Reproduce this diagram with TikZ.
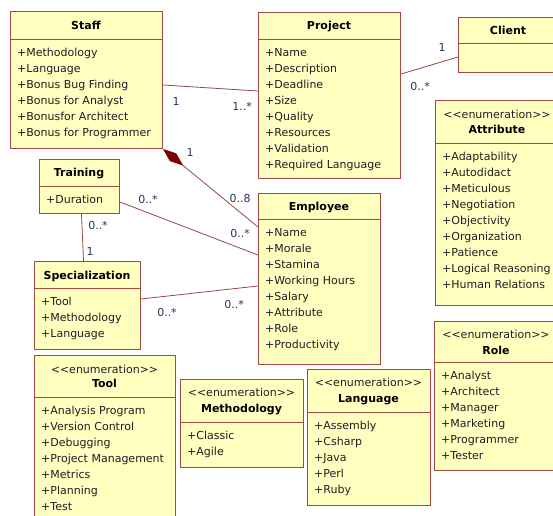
\documentclass[tikz,border=0pt]{standalone}
\usepackage{fontspec}
\setmainfont{DejaVu Sans}
\usetikzlibrary{arrows.meta}

\definecolor{boxfill}{RGB}{255,255,192}
\definecolor{boxedge}{RGB}{165,72,66}
\definecolor{linkred}{RGB}{150,72,72}
\definecolor{multblue}{RGB}{40,50,95}
\definecolor{itemgray}{RGB}{30,30,40}
\definecolor{diamondred}{RGB}{125,0,0}

\begin{document}
\begin{tikzpicture}[x=1pt,y=1pt,yscale=-1,xscale=1,
  umlbox/.style={draw=boxedge, fill=boxfill, line width=1pt, anchor=north west, inner sep=0pt},
  umlline/.style={draw=boxedge, line width=1pt},
  umlhead/.style={anchor=base, inner sep=0pt, font=\fontsize{11}{15}\bfseries\selectfont},
  umlstereo/.style={anchor=base, inner sep=0pt, text=itemgray, font=\fontsize{11}{15}\selectfont},
  umlattr/.style={anchor=north west, inner sep=0pt, align=left, text=itemgray, font=\fontsize{11}{16}\selectfont},
  assoc/.style={draw=linkred, line width=0.8pt},
  mult/.style={anchor=base, inner sep=0pt, text=multblue, font=\fontsize{11}{13}\selectfont}]
\useasboundingbox (0,0) rectangle (553,515);
\clip (0,0) rectangle (553,515);

%Staff
\node[umlbox, minimum width=152pt, minimum height=137pt] (staff) at (10,11) {};
\draw[umlline] (staff.west |- 0,39) -- (staff.east |- 0,39);
\node[umlhead] (staffH) at (86,29) {Staff};
\node[umlattr] (staffA) at (17,48) {+Methodology\\+Language\\+Bonus Bug Finding\\+Bonus for Analyst\\+Bonusfor Architect\\+Bonus for Programmer};

%Project
\node[umlbox, minimum width=142pt, minimum height=166pt] (project) at (258,12) {};
\draw[umlline] (project.west |- 0,39) -- (project.east |- 0,39);
\node[umlhead] (projectH) at (329,29) {Project};
\node[umlattr] (projectA) at (265,48) {+Name\\+Description\\+Deadline\\+Size\\+Quality\\+Resources\\+Validation\\+Required Language};

%Client
\node[umlbox, minimum width=100pt, minimum height=55pt] (client) at (458,17) {};
\draw[umlline] (client.west |- 0,43) -- (client.east |- 0,43);
\node[umlhead] (clientH) at (508,34) {Client};

%Attribute (enumeration)
\node[umlbox, minimum width=123pt, minimum height=205pt] (attribute) at (435,100) {};
\draw[umlline] (attribute.west |- 0,143) -- (attribute.east |- 0,143);
\node[umlstereo] (attributeS) at (497,118) {<{}<enumeration>{}>};
\node[umlhead] (attributeH) at (497,133) {Attribute};
\node[umlattr] (attributeA) at (442,152) {+Adaptability\\+Autodidact\\+Meticulous\\+Negotiation\\+Objectivity\\+Organization\\+Patience\\+Logical Reasoning\\+Human Relations};

%Training
\node[umlbox, minimum width=80pt, minimum height=54pt] (training) at (39,159) {};
\draw[umlline] (training.west |- 0,186) -- (training.east |- 0,186);
\node[umlhead] (trainingH) at (79,176) {Training};
\node[umlattr] (trainingA) at (46,195) {+Duration};

%Employee
\node[umlbox, minimum width=122pt, minimum height=171pt] (employee) at (258,193) {};
\draw[umlline] (employee.west |- 0,219) -- (employee.east |- 0,219);
\node[umlhead] (employeeH) at (319,210) {Employee};
\node[umlattr] (employeeA) at (265,228.5) {+Name\\+Morale\\+Stamina\\+Working Hours\\+Salary\\+Attribute\\+Role\\+Productivity};

%Specialization
\node[umlbox, minimum width=106pt, minimum height=88pt] (special) at (34,261) {};
\draw[umlline] (special.west |- 0,288) -- (special.east |- 0,288);
\node[umlhead] (specialH) at (87,279) {Specialization};
\node[umlattr] (specialA) at (41,297) {+Tool\\+Methodology\\+Language};

%Tool (enumeration)
\node[umlbox, minimum width=141pt, minimum height=170pt] (tool) at (34,355) {};
\draw[umlline] (tool.west |- 0,397) -- (tool.east |- 0,397);
\node[umlstereo] (toolS) at (104.5,373) {<{}<enumeration>{}>};
\node[umlhead] (toolH) at (104.5,387) {Tool};
\node[umlattr] (toolA) at (41,406) {+Analysis Program\\+Version Control\\+Debugging\\+Project Management\\+Metrics\\+Planning\\+Test};

%Methodology (enumeration)
\node[umlbox, minimum width=123pt, minimum height=88pt] (method) at (180,379) {};
\draw[umlline] (method.west |- 0,422) -- (method.east |- 0,422);
\node[umlstereo] (methodS) at (241.5,396) {<{}<enumeration>{}>};
\node[umlhead] (methodH) at (241.5,412) {Methodology};
\node[umlattr] (methodA) at (187,431) {+Classic\\+Agile};

%Language (enumeration)
\node[umlbox, minimum width=123pt, minimum height=136pt] (language) at (307,369) {};
\draw[umlline] (language.west |- 0,412) -- (language.east |- 0,412);
\node[umlstereo] (languageS) at (368.5,386) {<{}<enumeration>{}>};
\node[umlhead] (languageH) at (368.5,402) {Language};
\node[umlattr] (languageA) at (314,421) {+Assembly\\+Csharp\\+Java\\+Perl\\+Ruby};

%Role (enumeration)
\node[umlbox, minimum width=124pt, minimum height=149pt] (role) at (434,321) {};
\draw[umlline] (role.west |- 0,362) -- (role.east |- 0,362);
\node[umlstereo] (roleS) at (496,338) {<{}<enumeration>{}>};
\node[umlhead] (roleH) at (496,354) {Role};
\node[umlattr] (roleA) at (441,371) {+Analyst\\+Architect\\+Manager\\+Marketing\\+Programmer\\+Tester};

%Associations
\draw[assoc] ([yshift=74pt]staff.north east) -- ([yshift=79pt]project.north west);
\draw[assoc] ([yshift=62pt]project.north east) -- ([yshift=40pt]client.north west);
\draw[assoc] ([yshift=43pt]training.north east) -- ([yshift=62pt]employee.north west);
\draw[assoc] ([xshift=2pt]training.south) -- ([xshift=-4pt]special.north);
\draw[assoc] ([yshift=38pt]special.north east) -- ([yshift=93pt]employee.north west);

%Composition Staff <>-- Employee
\draw[assoc, {Diamond[length=26pt,width=10pt,color=diamondred,fill=diamondred]}-] (staff.south east) -- ([yshift=34pt]employee.north west);

%Multiplicities
\node[mult] (mStaffP) at (176,105) {1};
\node[mult] (mProjectS) at (242,110) {1..*};
\node[mult] (mClientP) at (442,51) {1};
\node[mult] (mProjectC) at (420,90) {0..*};
\node[mult] (mStaffE) at (190,156) {1};
\node[mult] (mEmployeeS) at (240,202) {0..8};
\node[mult] (mTrainingE) at (148,203) {0..*};
\node[mult] (mEmployeeT) at (240,237) {0..*};
\node[mult] (mTrainingS) at (98,229) {0..*};
\node[mult] (mSpecialT) at (90,255) {1};
\node[mult] (mSpecialE) at (167,316) {0..*};
\node[mult] (mEmployeeSp) at (234,308) {0..*};

\end{tikzpicture}
\end{document}
